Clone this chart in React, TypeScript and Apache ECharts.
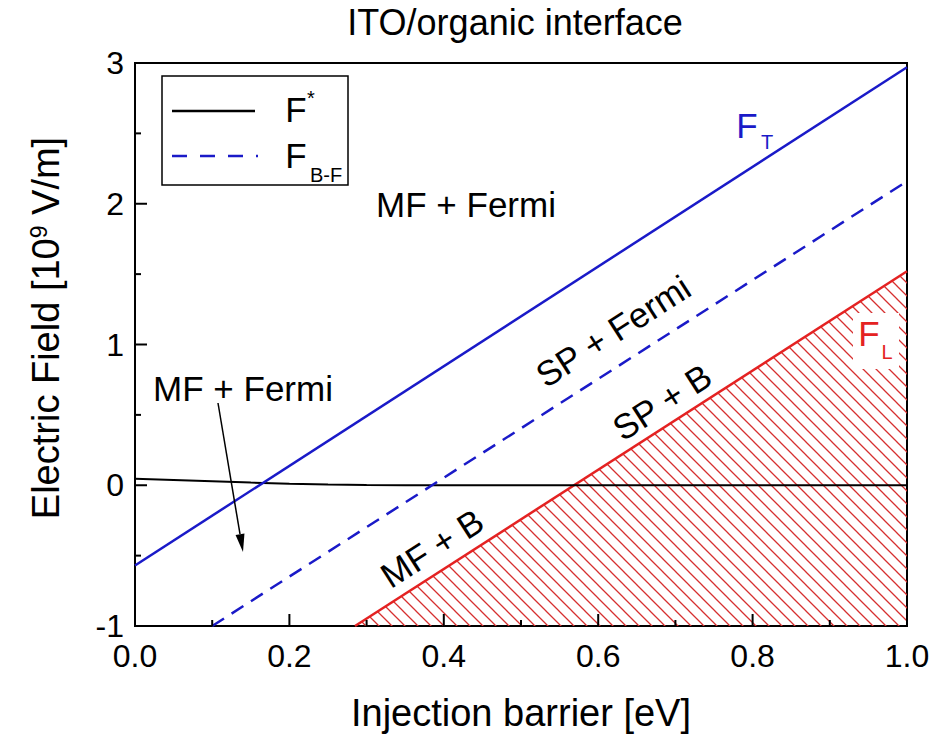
import React, { useEffect, useRef } from "react";
import * as echarts from "echarts";

const FONT = "Liberation Sans, Arial, Helvetica, sans-serif";

// F* (black solid)
const fStarX = [0, 0.05, 0.1, 0.15, 0.2, 0.25, 0.3, 0.35, 0.4, 0.5, 0.6, 0.7, 0.8, 0.9, 1.0];
const fStarY = [0.047, 0.037, 0.028, 0.019, 0.011, 0.005, 0.002, 0.0005, 0, 0, 0, 0, 0, 0, 0];
// F_T (blue solid)
const fTX = [0, 1.0];
const fTY = [-0.57, 2.97];
// F_B-F (blue dashed)
const fBFX = [0.1, 1.0];
const fBFY = [-1, 2.16];
// F_L (red, hatched below)
const fLX = [0.285, 1.0];
const fLY = [-1, 1.52];

// axis ticks
const xMin = 0, xMax = 1, yMin = -1, yMax = 3;
const xTickInterval = 0.2;
const yTickInterval = 1;
const xMajorTicks = [0, 0.2, 0.4, 0.6, 0.8, 1.0];
const xMinorTicks = [0.1, 0.3, 0.5, 0.7, 0.9];
const yMajorTicks = [-1, 0, 1, 2, 3];
const yMinorTicks = [-0.5, 0.5, 1.5, 2.5];

const zip = (xs: number[], ys: number[]) => xs.map((x, i) => [x, ys[i]]);

export default function App() {
  const ref = useRef<HTMLDivElement>(null);
  useEffect(() => {
    if (!ref.current) return;
    const chart = echarts.init(ref.current, undefined, { renderer: "svg" });

    const T = 13;
    const c = document.createElement("canvas");
    c.width = T;
    c.height = T;
    const ctx = c.getContext("2d")!;
    ctx.strokeStyle = "#d63030";
    ctx.lineWidth = 1.3;
    ctx.beginPath();
    ctx.moveTo(-2, -2);
    ctx.lineTo(T + 2, T + 2);
    ctx.moveTo(-2, T - 2);
    ctx.lineTo(2, T + 2);
    ctx.moveTo(T - 2, -2);
    ctx.lineTo(T + 2, 2);
    ctx.stroke();

    const blue = "#1a1ac8";
    const red = "#e42222";
    const txt = (text: string, x: number, y: number, size: number, color = "#000", extra: any = {}) => ({
      type: "text",
      x,
      y,
      z: 60,
      ...extra,
      style: {
        text,
        fill: color,
        fontSize: size,
        fontFamily: FONT,
        textAlign: "center",
        textVerticalAlign: "middle",
      },
    });
    const rot = (32.7 * Math.PI) / 180;

    // arrow geometry
    const ax0 = 218, ay0 = 403, ax1 = 243, ay1 = 552;
    const dx = ax1 - ax0, dy = ay1 - ay0;
    const L = Math.hypot(dx, dy);
    const ux = dx / L, uy = dy / L;
    const hl = 18, hw = 4.5;
    const bx = ax1 - ux * hl, by = ay1 - uy * hl;

    const axisCommon = {
      axisLine: { show: true, onZero: false, lineStyle: { color: "#000", width: 2 } },
      axisTick: { show: false },
      minorTick: { show: false },
      splitLine: { show: false },
    };

    chart.setOption({
      animation: false,
      backgroundColor: "#fff",
      grid: {
        left: 135,
        right: 35,
        top: 63,
        bottom: 110,
        show: true,
        borderColor: "#000",
        borderWidth: 2,
        backgroundColor: "transparent",
      },
      xAxis: {
        type: "value",
        min: xMin,
        max: xMax,
        interval: xTickInterval,
        name: "Injection barrier [eV]",
        nameLocation: "middle",
        nameGap: 68,
        nameTextStyle: { fontSize: 38, fontFamily: FONT, color: "#000" },
        ...axisCommon,
        axisLabel: {
          fontSize: 32,
          fontFamily: FONT,
          color: "#000",
          margin: 14,
          formatter: (v: number) => v.toFixed(1),
        },
      },
      yAxis: {
        type: "value",
        min: yMin,
        max: yMax,
        interval: yTickInterval,
        ...axisCommon,
        axisLabel: { fontSize: 32, fontFamily: FONT, color: "#000", margin: 11 },
      },
      series: [
        {
          name: "F_L",
          type: "line",
          data: zip(fLX, fLY),
          showSymbol: false,
          symbol: "none",
          z: 1,
          lineStyle: { color: red, width: 2.5 },
          areaStyle: {
            color: { image: c, repeat: "repeat", imageWidth: T, imageHeight: T },
            opacity: 1,
            origin: "start",
          },
        },
        {
          name: "F*",
          type: "line",
          data: zip(fStarX, fStarY),
          symbol: "none",
          z: 3,
          lineStyle: { color: "#000", width: 2 },
        },
        {
          name: "F_B-F",
          type: "line",
          data: zip(fBFX, fBFY),
          symbol: "none",
          z: 3,
          lineStyle: { color: blue, width: 2.5, type: [14, 9] },
        },
        {
          name: "F_T",
          type: "line",
          data: zip(fTX, fTY),
          symbol: "none",
          z: 3,
          lineStyle: { color: blue, width: 2.5 },
        },
      ],
    });

    // ticks placed through the chart's own scales
    const tickEls: any[] = [];
    const addX = (v: number, len: number) => {
      const p = chart.convertToPixel({ gridIndex: 0 }, [v, yMin]) as number[];
      tickEls.push({
        type: "line",
        z: 70,
        shape: { x1: p[0], y1: p[1], x2: p[0], y2: p[1] - len },
        style: { stroke: "#000", lineWidth: 2 },
      });
    };
    const addY = (v: number, len: number) => {
      const p = chart.convertToPixel({ gridIndex: 0 }, [xMin, v]) as number[];
      tickEls.push({
        type: "line",
        z: 70,
        shape: { x1: p[0], y1: p[1], x2: p[0] + len, y2: p[1] },
        style: { stroke: "#000", lineWidth: 2 },
      });
    };
    xMajorTicks.forEach((v) => addX(v, 12));
    xMinorTicks.forEach((v) => addX(v, 6));
    yMajorTicks.forEach((v) => addY(v, 12));
    yMinorTicks.forEach((v) => addY(v, 6));

    chart.setOption({
      graphic: [
        ...tickEls,
        txt("ITO/organic interface", 515, 22, 36),
        {
          type: "text",
          x: 46,
          y: 328,
          rotation: Math.PI / 2,
          z: 60,
          style: {
            text: "{a|Electric Field [10}{s|9}{a| V/m]}",
            textAlign: "center",
            textVerticalAlign: "middle",
            rich: {
              a: { fontSize: 38, fontFamily: FONT, fill: "#000", verticalAlign: "bottom" },
              s: { fontSize: 23, fontFamily: FONT, fill: "#000", verticalAlign: "bottom", padding: [0, 0, 15, 0] },
            },
          },
        },
        {
          type: "rect",
          z: 55,
          shape: { x: 162, y: 76, width: 186, height: 109 },
          style: { fill: "#fff", stroke: "#000", lineWidth: 1.5 },
        },
        {
          type: "line",
          z: 60,
          shape: { x1: 172, y1: 111, x2: 255, y2: 111 },
          style: { stroke: "#000", lineWidth: 2.5 },
        },
        {
          type: "line",
          z: 60,
          shape: { x1: 172, y1: 156, x2: 258, y2: 156 },
          style: { stroke: blue, lineWidth: 2.5, lineDash: [15, 13] },
        },
        txt("F", 296, 109, 35),
        txt("*", 311, 98, 20),
        txt("F", 296, 155, 35),
        txt("B-F", 326, 175, 20),
        txt("MF + Fermi", 466, 204, 35),
        txt("MF + Fermi", 243, 388, 35),
        txt("SP + Fermi", 613, 331, 35, "#000", { rotation: rot }),
        txt("SP + B", 662, 402, 35, "#000", { rotation: rot }),
        txt("MF + B", 432, 548, 35, "#000", { rotation: rot }),
        txt("F", 747, 125, 35, blue),
        txt("T", 767, 142, 20, blue),
        {
          type: "rect",
          z: 55,
          shape: { x: 853, y: 313, width: 46, height: 56 },
          style: { fill: "#fff" },
        },
        txt("F", 869, 333, 35, red),
        txt("L", 887, 352, 20, red),
        {
          type: "line",
          z: 60,
          shape: { x1: ax0, y1: ay0, x2: bx, y2: by },
          style: { stroke: "#000", lineWidth: 1.5 },
        },
        {
          type: "polygon",
          z: 60,
          shape: {
            points: [
              [ax1, ay1],
              [bx + uy * hw, by - ux * hw],
              [bx - uy * hw, by + ux * hw],
            ],
          },
          style: { fill: "#000" },
        },
      ],
    });
    return () => chart.dispose();
  }, []);
  return (
    <div
      ref={ref}
      style={{ position: "fixed", left: 0, top: 0, width: 942, height: 737, background: "#fff" }}
    />
  );
}
